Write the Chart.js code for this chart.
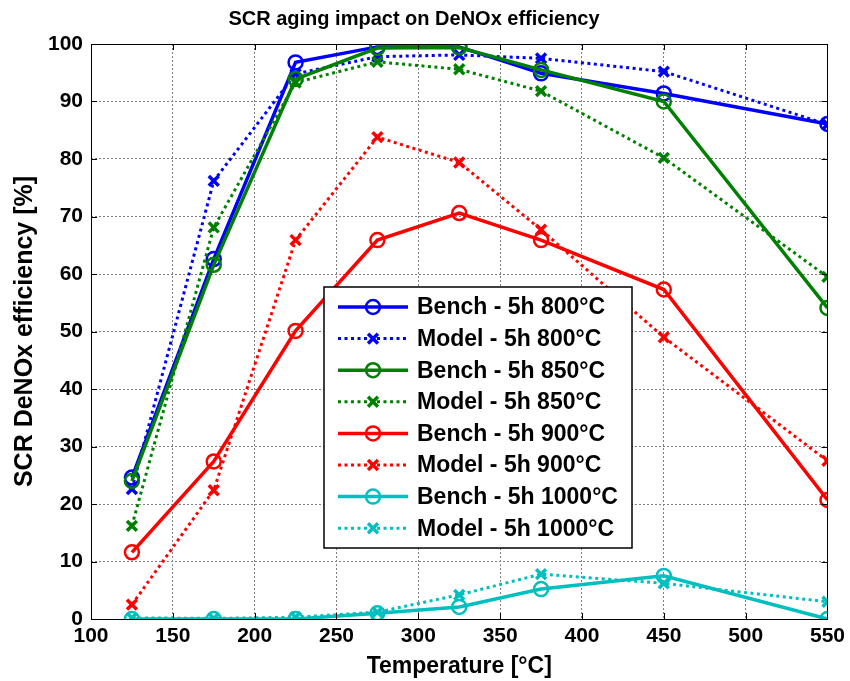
<!DOCTYPE html>
<html>
<head>
<meta charset="utf-8">
<script src="https://cdn.jsdelivr.net/npm/chart.js@4.4.1/dist/chart.umd.min.js"></script>
<style>
  html, body { margin: 0; padding: 0; background: #fff; }
  #wrap { width: 850px; height: 681px; }
</style>
</head>
<body>
<div id="wrap"><canvas id="line" width="850" height="681"></canvas></div>
<script>
// data
const temps = [125, 175, 225, 275, 325, 375, 450, 550];
const bench800 = [24.6, 62.6, 96.8, 99.5, 99.5, 94.9, 91.4, 86.1];
const model800 = [22.6, 76.2, 94.8, 97.8, 98.1, 97.5, 95.2, 86.0];
const bench850 = [24.0, 61.6, 93.9, 99.3, 99.4, 95.5, 90.0, 54.1];
const model850 = [16.2, 68.1, 93.3, 96.9, 95.6, 91.8, 80.2, 59.5];
const bench900 = [11.6, 27.4, 50.1, 65.9, 70.6, 65.9, 57.3, 20.7];
const model900 = [2.5, 22.4, 65.9, 83.8, 79.4, 67.7, 49.0, 27.5];
const bench1000 = [0.0, 0.0, 0.0, 1.0, 2.1, 5.2, 7.5, 0.0];
const model1000 = [0.2, 0.1, 0.3, 1.2, 4.2, 7.8, 6.2, 3.0];
const labels = [
  "Bench - 5h 800°C", "Model - 5h 800°C",
  "Bench - 5h 850°C", "Model - 5h 850°C",
  "Bench - 5h 900°C", "Model - 5h 900°C",
  "Bench - 5h 1000°C", "Model - 5h 1000°C"
];
const series = [bench800, model800, bench850, model850, bench900, model900, bench1000, model1000];
const colors = ["#0000ff", "#0000ff", "#008000", "#008000", "#ff0000", "#ff0000", "#00bfbf", "#00bfbf"];

const FONT = '"Liberation Sans", Arial, sans-serif';

function makeDataset(i) {
  const isModel = i % 2 === 1;
  return {
    label: labels[i],
    data: temps.map((t, k) => ({ x: t, y: series[i][k] })),
    borderColor: colors[i],
    backgroundColor: colors[i],
    borderWidth: isModel ? 3 : 3.5,
    borderDash: isModel ? [3, 3.5] : [],
    borderCapStyle: "butt",
    pointStyle: isModel ? "crossRot" : "circle",
    pointRadius: 7,
    pointBorderWidth: isModel ? 3.5 : 2.5,
    pointBorderColor: colors[i],
    pointBackgroundColor: "rgba(0,0,0,0)",
    tension: 0,
    fill: false,
    order: 8 - i // later series drawn on top
  };
}

// box + inward ticks like matlab axes
const matlabFrame = {
  id: "matlabFrame",
  afterDatasetsDraw(chart) {
    const { ctx, chartArea: a, scales: { x, y } } = chart;
    ctx.save();
    ctx.strokeStyle = "#000";
    ctx.lineWidth = 1;
    ctx.setLineDash([]);
    ctx.strokeRect(Math.round(a.left) + 0.5, Math.round(a.top) + 0.5,
      Math.round(a.right - a.left), Math.round(a.bottom - a.top));
    ctx.beginPath();
    x.ticks.forEach(t => {
      const px = Math.round(x.getPixelForValue(t.value)) + 0.5;
      ctx.moveTo(px, a.bottom); ctx.lineTo(px, a.bottom - 6);
      ctx.moveTo(px, a.top); ctx.lineTo(px, a.top + 6);
    });
    y.ticks.forEach(t => {
      const py = Math.round(y.getPixelForValue(t.value)) + 0.5;
      ctx.moveTo(a.left, py); ctx.lineTo(a.left + 6, py);
      ctx.moveTo(a.right, py); ctx.lineTo(a.right - 6, py);
    });
    ctx.stroke();
    ctx.restore();
  }
};

// legend box drawn inside the plot
const boxLegend = {
  id: "boxLegend",
  afterDraw(chart, args, opts) {
    const ctx = chart.ctx;
    const dsList = chart.data.datasets;
    ctx.save();
    ctx.fillStyle = "#fff";
    ctx.fillRect(opts.left, opts.top, opts.width, opts.height);
    ctx.strokeStyle = "#000";
    ctx.lineWidth = 1.5;
    ctx.strokeRect(opts.left, opts.top, opts.width, opts.height);
    dsList.forEach((ds, i) => {
      const yy = opts.top + opts.firstRow + i * opts.rowH;
      const x0 = opts.left + opts.lineStart;
      const x1 = x0 + opts.lineLen;
      ctx.strokeStyle = ds.borderColor;
      ctx.lineWidth = ds.borderWidth;
      ctx.lineCap = "butt";
      ctx.setLineDash(ds.borderDash);
      ctx.beginPath();
      ctx.moveTo(x0, yy); ctx.lineTo(x1, yy);
      ctx.stroke();
      ctx.setLineDash([]);
      ctx.fillStyle = "rgba(0,0,0,0)";
      ctx.lineWidth = ds.pointBorderWidth;
      Chart.helpers.drawPoint(ctx, {
        pointStyle: ds.pointStyle, radius: ds.pointRadius,
        borderWidth: ds.pointBorderWidth, rotation: 0
      }, (x0 + x1) / 2, yy);
      ctx.fillStyle = "#000";
      ctx.font = "bold 23px " + FONT;
      ctx.textBaseline = "middle";
      ctx.textAlign = "left";
      ctx.fillText(ds.label, x1 + opts.textGap, yy + 1);
    });
    ctx.restore();
  }
};

const gridOpts = { color: "#808080", lineWidth: 1, drawTicks: false };

const ctx = document.getElementById("line").getContext("2d");
const myChart = new Chart(ctx, {
  type: "line",
  data: { datasets: series.map((s, i) => makeDataset(i)) },
  options: {
    responsive: false,
    animation: false,
    devicePixelRatio: 1,
    layout: { padding: { left: 0, right: 22, top: 0, bottom: 0 } },
    scales: {
      x: {
        type: "linear",
        min: 100,
        max: 550,
        ticks: { stepSize: 50, color: "#000", padding: 5, font: { family: FONT, size: 21, weight: "bold" } },
        grid: gridOpts,
        border: { display: false, dash: [2, 2] },
        title: { display: true, text: "Temperature [°C]", color: "#000", padding: { top: 0, bottom: 1 },
          font: { family: FONT, size: 23, weight: "bold" } },
        afterFit: (scale) => { scale.height = 62; }
      },
      y: {
        type: "linear",
        min: 0,
        max: 100,
        ticks: { stepSize: 10, color: "#000", padding: 8, font: { family: FONT, size: 21, weight: "bold" } },
        grid: gridOpts,
        border: { display: false, dash: [2, 2] },
        title: { display: true, text: "SCR DeNOx efficiency [%]", color: "#000", padding: { top: 10, bottom: 0 },
          font: { family: FONT, size: 25, weight: "bold" } },
        afterFit: (scale) => { scale.width = 91; }
      }
    },
    plugins: {
      legend: { display: false },
      tooltip: { enabled: false },
      title: {
        display: true,
        text: "SCR aging impact on DeNOx efficiency",
        color: "#000",
        font: { family: FONT, size: 20, weight: "bold" },
        padding: { top: 7, bottom: 13 }
      },
      boxLegend: { left: 324, top: 287, width: 308, height: 261, firstRow: 20, rowH: 31.6, lineStart: 14, lineLen: 70, textGap: 9 }
    }
  },
  plugins: [matlabFrame, boxLegend]
});
</script>
</body>
</html>
